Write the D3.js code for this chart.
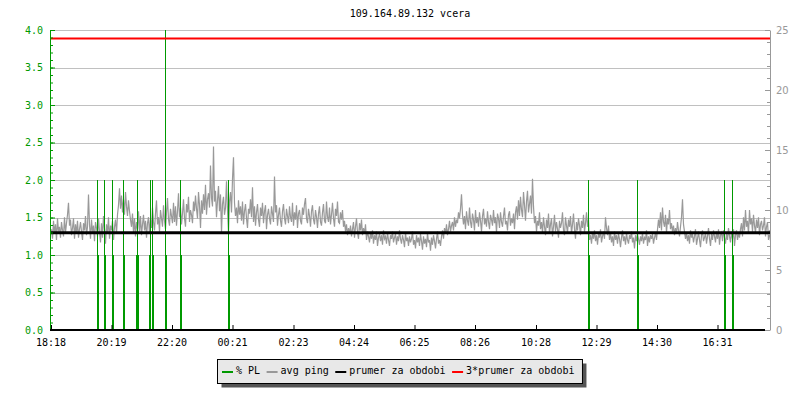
<!DOCTYPE html>
<html>
<head>
<meta charset="utf-8">
<script src="https://cdnjs.cloudflare.com/ajax/libs/d3/7.8.5/d3.min.js"></script>
<style>
body { margin: 0; background: #fff; }
svg { display: block; }
text { font-family: "DejaVu Sans Mono", monospace; font-size: 10px; }
</style>
</head>
<body>
<div id="chart"></div>
<script>
// ---- data ----
var title = '109.164.89.132 vcera';
var tickMinutes = [0, 121, 242, 363, 485, 606, 727, 848, 970, 1091, 1212, 1333];
var tickLabels = ['18:18', '20:19', '22:20', '00:21', '02:23', '04:24', '06:25', '08:26', '10:28', '12:29', '14:30', '16:31'];
var totalMinutes = 1440;
var pingStep = 2; // minutes between ping samples

// avg ping in ms (right axis), one value per 2 minutes from 18:18
var avgPing = [
  8.4, 7.6, 9.1, 8.0, 8.8, 7.5, 9.3, 8.2, 8.6, 7.7,
  9.0, 8.3, 7.8, 9.4, 8.1, 8.9, 9.6, 10.6, 8.7, 9.2,
  7.9, 8.5, 9.3, 7.6, 8.8, 8.0, 9.1, 7.7, 8.4, 9.0,
  8.2, 7.5, 8.9, 8.3, 9.5, 7.9, 8.6, 11.3, 8.8, 7.6,
  9.2, 8.1, 8.7, 7.4, 9.0, 8.5, 7.8, 9.3, 8.2, 7.3,
  8.9, 7.7, 9.5, 8.4, 7.2, 8.8, 8.0, 9.4, 7.6, 8.7,
  8.3, 9.1, 7.5, 8.6, 9.2, 8.0, 9.6, 10.4, 11.8, 10.1,
  11.2, 9.8, 10.9, 9.6, 11.5, 10.3, 9.5, 10.8, 9.9, 9.2,
  8.6, 9.7, 8.1, 9.3, 7.8, 9.0, 8.4, 9.9, 8.2, 9.5,
  7.9, 8.8, 9.6, 8.3, 9.1, 7.7, 8.9, 9.4, 8.0, 9.2,
  8.5, 10.2, 9.0, 8.3, 9.7, 10.8, 8.8, 9.4, 8.2, 10.0,
  9.3, 8.6, 10.4, 9.1, 8.4, 9.8, 11.0, 9.2, 8.7, 10.1,
  9.5, 8.9, 10.6, 9.0, 10.3, 8.7, 9.9, 11.4, 9.4, 10.2,
  8.8, 9.7, 10.9, 9.3, 8.6, 10.5, 9.8, 11.1, 9.0, 10.0,
  9.6, 8.9, 10.7, 9.9, 11.2, 10.1, 9.3, 11.5, 10.4, 8.5,
  10.8, 9.7, 11.3, 10.0, 12.1, 9.6, 10.9, 11.4, 10.2, 13.7,
  11.0, 10.3, 15.3, 10.7, 11.6, 9.4, 10.8, 12.0, 9.9, 11.3,
  8.1, 10.5, 11.1, 9.6, 10.2, 12.4, 10.0, 8.1, 10.7, 11.5,
  9.8, 12.6, 14.4, 10.6, 9.5, 10.2, 8.9, 10.8, 9.6, 10.3,
  9.1, 10.7, 8.8, 9.9, 10.5, 9.3, 8.5, 10.1, 9.7, 10.9,
  9.4, 11.9, 9.0, 10.3, 8.7, 9.8, 10.5, 9.2, 8.6, 10.2,
  9.5, 10.6, 8.9, 9.9, 10.4, 8.4, 9.6, 10.1, 9.3, 8.8,
  10.3, 9.7, 9.0, 12.8, 9.8, 10.4, 8.7, 9.6, 10.2, 9.1,
  8.6, 9.9, 10.5, 9.3, 8.8, 10.1, 9.5, 8.9, 10.3, 9.4,
  9.0, 10.6, 8.7, 9.8, 9.2, 10.4, 8.5, 9.7, 10.0, 9.1,
  8.8, 10.2, 9.6, 10.5, 11.0, 9.3, 8.9, 10.1, 9.5, 8.6,
  9.9, 10.4, 9.2, 8.8, 10.0, 9.4, 8.5, 9.7, 10.3, 9.0,
  8.7, 9.8, 10.5, 9.1, 8.9, 10.7, 9.4, 9.0, 10.2, 8.8,
  9.6, 10.6, 9.3, 8.6, 10.1, 9.5, 10.7, 9.0, 8.9, 9.8,
  9.2, 10.0, 8.6, 9.1, 8.2, 8.8, 7.9, 8.5, 8.0, 8.7,
  7.8, 8.4, 9.0, 7.7, 8.6, 9.3, 8.1, 7.6, 8.9, 8.3,
  9.2, 7.9, 8.5, 8.0, 8.8, 7.5, 8.2, 7.8, 7.3, 8.1,
  7.6, 8.3, 7.2, 7.9, 7.5, 8.2, 7.0, 7.7, 8.0, 7.4,
  7.9, 7.1, 8.3, 7.6, 7.8, 7.2, 8.1, 7.5, 7.0, 7.9,
  7.6, 8.2, 7.3, 7.7, 8.0, 7.1, 7.8, 7.4, 8.3, 7.6,
  7.2, 7.9, 7.5, 6.9, 8.1, 7.4, 7.7, 7.0, 7.8, 7.3,
  7.6, 8.2, 7.1, 7.5, 6.8, 7.9, 7.3, 7.7, 7.0, 8.0,
  7.4, 6.7, 7.8, 7.2, 7.6, 6.9, 8.1, 7.3, 7.5, 6.6,
  7.7, 7.1, 7.9, 7.4, 6.8, 7.6, 8.2, 7.2, 7.5, 7.0,
  7.8, 8.3, 7.6, 8.5, 8.0, 8.8, 7.9, 8.4, 9.1, 8.2,
  8.7, 9.0, 8.3, 9.4, 8.6, 9.2, 8.9, 9.8, 9.3, 10.1,
  11.3, 9.6, 8.8, 9.5, 8.4, 9.9, 9.1, 8.7, 10.2, 9.0,
  8.5, 9.7, 9.2, 8.3, 10.0, 8.9, 9.4, 8.6, 9.8, 9.1,
  8.2, 9.5, 10.1, 8.8, 9.3, 8.6, 9.9, 9.0, 8.4, 9.6,
  9.2, 8.7, 10.0, 8.9, 9.4, 8.1, 9.7, 9.3, 8.5, 9.8,
  9.0, 8.6, 9.5, 10.2, 8.8, 9.1, 8.3, 9.6, 9.9, 8.7,
  9.3, 8.9, 9.7, 8.4, 9.8, 10.3, 9.2, 10.8, 9.5, 11.1,
  10.0, 9.4, 11.5, 10.4, 9.1, 10.7, 11.6, 9.8, 10.5, 11.2,
  9.7, 12.6, 10.3, 8.9, 9.5, 8.2, 9.1, 8.7, 9.8, 8.4,
  9.0, 8.1, 9.4, 8.6, 7.9, 9.2, 8.5, 9.7, 8.0, 8.8,
  9.3, 7.8, 8.6, 9.6, 8.2, 9.0, 8.4, 7.7, 9.1, 8.5,
  8.9, 9.8, 8.3, 7.9, 9.4, 8.7, 8.1, 9.2, 8.6, 9.5,
  8.0, 8.8, 9.7, 8.4, 7.6, 9.0, 8.3, 9.3, 8.7, 7.9,
  9.1, 8.5, 9.6, 8.2, 8.9, 9.8, 8.6, 9.2, 7.5, 7.9,
  7.2, 8.1, 7.6, 8.3, 7.4, 7.9, 7.1, 8.0, 7.7, 8.4,
  7.3, 7.8, 8.2, 7.6, 9.4, 8.5, 7.9, 8.7, 7.5, 8.1,
  7.3, 7.8, 7.0, 8.2, 7.5, 7.9, 7.2, 8.0, 7.6, 6.9,
  7.7, 8.3, 7.4, 7.8, 7.1, 8.1, 7.5, 7.2, 7.9, 7.6,
  8.2, 7.3, 7.7, 6.8, 7.9, 7.4, 8.0, 7.6, 7.1, 7.8,
  7.4, 8.1, 7.2, 7.7, 7.5, 8.3, 7.0, 7.8, 7.3, 7.9,
  7.6, 8.0, 7.2, 7.7, 8.1, 7.5, 8.4, 9.2, 8.5, 9.8,
  8.3, 10.2, 9.0, 8.6, 9.6, 8.1, 9.3, 8.8, 10.0, 8.4,
  8.9, 8.2, 8.7, 7.9, 8.5, 8.0, 9.0, 8.3, 7.8, 8.6,
  9.4, 10.9, 8.8, 8.2, 7.6, 8.1, 7.4, 7.9, 7.2, 8.3,
  7.7, 8.0, 7.3, 7.8, 8.4, 7.1, 7.6, 8.2, 7.5, 6.9,
  7.9, 8.3, 7.4, 7.7, 8.1, 7.2, 7.8, 8.5, 7.6, 7.0,
  8.0, 7.5, 8.3, 7.8, 7.3, 8.2, 7.6, 8.4, 7.1, 7.9,
  8.1, 7.4, 8.3, 7.7, 7.2, 8.0, 7.5, 8.5, 7.8, 7.3,
  8.2, 7.6, 8.4, 7.0, 7.9, 8.3, 7.5, 8.1, 7.7, 8.4,
  8.9, 7.8, 9.4, 8.3, 10.0, 8.6, 9.1, 8.0, 10.0, 8.8,
  9.3, 8.2, 9.6, 8.7, 8.1, 9.2, 8.5, 9.4, 7.9, 8.8,
  9.1, 8.3, 8.7, 9.4, 7.8, 8.6, 9.0, 7.5, 8.3, 7.4
];

// packet loss samples (% , left axis): minute offset and value
var plMinutes = [92, 94, 106, 108, 122, 124, 144, 146, 170, 172, 174, 196, 198, 202, 204, 228, 230, 258, 260, 354, 356, 1074, 1076, 1172, 1174, 1346, 1348, 1362, 1364];
var plValues  = [2, 1, 2, 1, 2, 1, 2, 1, 1, 2, 1, 1, 2, 2, 1, 5, 1, 2, 1, 2, 1, 2, 1, 2, 1, 2, 1, 2, 1];

var meanPing = 8.1;

var legendLabels = ['% PL', 'avg ping', 'prumer za obdobi', '3*prumer za obdobi'];
var legendColors = ['#009900', '#999999', '#000000', '#ff0000'];

// ---- layout ----
var W = 800, H = 400;
var mL = 50, mR = 770, mT = 30, mB = 330;

var svg = d3.select('#chart').append('svg')
  .attr('width', W)
  .attr('height', H);

var x = d3.scaleLinear().domain([0, totalMinutes]).range([mL + 1, mR + 1]);
var yL = d3.scaleLinear().domain([0, 4]).range([mB, mT]);
var yR = d3.scaleLinear().domain([0, 25]).range([mB, mT]);

svg.append('defs').append('clipPath').attr('id', 'plot')
  .append('rect').attr('x', mL).attr('y', mT).attr('width', mR - mL).attr('height', mB - mT);

// title
svg.append('text')
  .attr('x', (mL + mR) / 2)
  .attr('y', 17)
  .attr('text-anchor', 'middle')
  .attr('fill', '#000')
  .text(title);

// grid
svg.append('g').selectAll('line')
  .data(d3.range(0.5, 4.01, 0.5))
  .enter().append('line')
  .attr('x1', mL).attr('x2', mR)
  .attr('y1', function(d) { return Math.round(yL(d)) + 0.5; })
  .attr('y2', function(d) { return Math.round(yL(d)) + 0.5; })
  .attr('stroke', '#c0c0c0');

var plot = svg.append('g').attr('clip-path', 'url(#plot)');

// avg ping
var pingLine = d3.line()
  .x(function(d, i) { return x(i * pingStep) + 0.5; })
  .y(function(d) { return yR(d); });

plot.append('path')
  .datum(avgPing)
  .attr('d', pingLine)
  .attr('fill', 'none')
  .attr('stroke', '#999999')
  .attr('stroke-width', 1.2);

// packet loss
plot.selectAll('rect.pl')
  .data(plMinutes)
  .enter().append('rect')
  .attr('class', 'pl')
  .attr('x', function(d) { return x(d); })
  .attr('width', function(d) { return x(d + 2) - x(d); })
  .attr('y', function(d, i) { return yL(plValues[i]); })
  .attr('height', function(d, i) { return mB - yL(plValues[i]); })
  .attr('fill', '#009900')
  .attr('shape-rendering', 'crispEdges');

// mean lines
plot.append('line')
  .attr('x1', mL).attr('x2', mR)
  .attr('y1', yR(meanPing)).attr('y2', yR(meanPing))
  .attr('stroke', '#000').attr('stroke-width', 3);

plot.append('line')
  .attr('x1', mL).attr('x2', mR)
  .attr('y1', yR(meanPing * 3)).attr('y2', yR(meanPing * 3))
  .attr('stroke', '#ff0000').attr('stroke-width', 2);

// left axis (green)
var gl = svg.append('g').attr('transform', 'translate(' + mL + ',0)');
gl.call(d3.axisRight(yL).tickValues(d3.range(0, 41).map(function(d) { return d / 10; }))
  .tickSize(3).tickSizeOuter(0).tickFormat(''));
gl.append('g').call(d3.axisRight(yL).tickValues(d3.range(0, 4.01, 0.5))
  .tickSize(5).tickSizeOuter(0).tickFormat(''))
  .select('.domain').remove();
gl.append('g').call(d3.axisLeft(yL).tickValues(d3.range(0, 4.01, 0.5))
  .tickSize(0).tickPadding(7).tickFormat(d3.format('.1f')))
  .select('.domain').remove();
gl.selectAll('path, line').attr('stroke', '#009900');
gl.selectAll('text').attr('fill', '#009900')
  .style('font-family', '"DejaVu Sans Mono", monospace').style('font-size', '10px');

// right axis (gray)
var gr = svg.append('g').attr('transform', 'translate(' + mR + ',0)');
gr.call(d3.axisLeft(yR).tickValues(d3.range(0, 26, 1))
  .tickSize(3).tickSizeOuter(0).tickFormat(''));
gr.append('g').call(d3.axisLeft(yR).tickValues(d3.range(0, 26, 5))
  .tickSize(5).tickSizeOuter(0).tickFormat(''))
  .select('.domain').remove();
gr.append('g').call(d3.axisRight(yR).tickValues(d3.range(0, 26, 5))
  .tickSize(0).tickPadding(6))
  .select('.domain').remove();
gr.selectAll('path, line').attr('stroke', '#999999');
gr.selectAll('text').attr('fill', '#999999')
  .style('font-family', '"DejaVu Sans", sans-serif').style('font-size', '10px');

// bottom axis
var gb = svg.append('g').attr('transform', 'translate(0,' + mB + ')');
gb.call(d3.axisTop(x).tickValues(tickMinutes).tickSize(5).tickSizeOuter(0)
  .tickFormat(function(d, i) { return ''; }));
gb.select('.domain').attr('d', 'M' + mL + ',0H' + (mR - 5))
  .attr('stroke', '#000').attr('stroke-width', 2);
gb.selectAll('line').attr('stroke', '#000');
gb.selectAll('text.lbl')
  .data(tickMinutes)
  .enter().append('text')
  .attr('class', 'lbl')
  .attr('x', function(d) { return x(d); })
  .attr('y', 16)
  .attr('text-anchor', 'middle')
  .attr('fill', '#000')
  .text(function(d, i) { return tickLabels[i]; });

// legend
var lg = svg.append('g');
var shadow = lg.append('rect').attr('fill', '#555');
var box = lg.append('rect').attr('fill', '#e8e8e8').attr('stroke', '#000');
var lx = 222, ly = 372;
legendLabels.forEach(function(lab, i) {
  lg.append('line')
    .attr('x1', lx).attr('x2', lx + 11)
    .attr('y1', ly).attr('y2', ly)
    .attr('stroke', legendColors[i]).attr('stroke-width', 2);
  var t = lg.append('text')
    .attr('x', lx + 14).attr('y', ly + 2)
    .attr('fill', '#000')
    .text(lab);
  lx = lx + 14 + t.node().getComputedTextLength() + 6.5;
});
var bx = 217.5, by = 359.5, bw = lx - 6.5 + 8 - bx, bh = 24;
box.attr('x', bx).attr('y', by).attr('width', bw).attr('height', bh);
shadow.attr('x', bx + 4).attr('y', by + 4).attr('width', bw).attr('height', bh);
</script>
</body>
</html>
